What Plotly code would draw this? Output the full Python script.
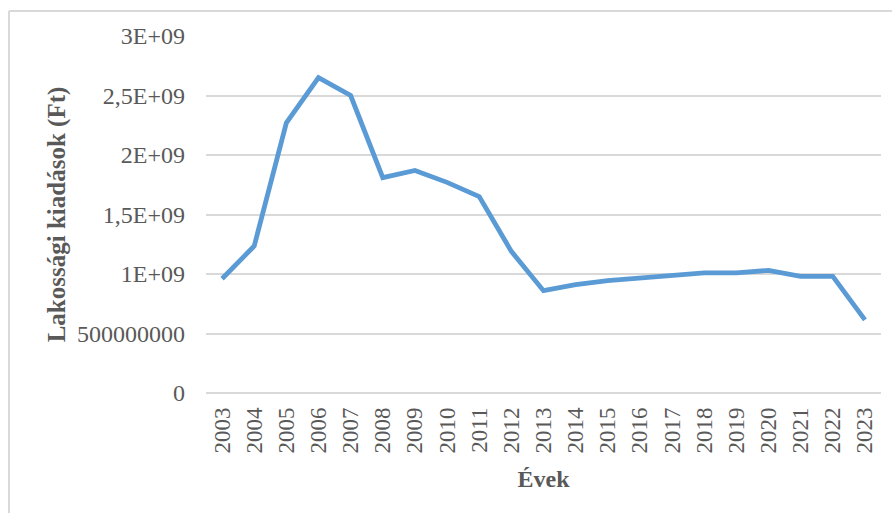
import plotly.graph_objects as go

# Éves lakossági kiadások (Ft)
years = [str(y) for y in range(2003, 2024)]
spending = [
    0.96e9, 1.235e9, 2.27e9, 2.65e9, 2.50e9, 1.81e9, 1.87e9, 1.77e9, 1.65e9,
    1.19e9, 0.86e9, 0.91e9, 0.945e9, 0.965e9, 0.99e9, 1.01e9, 1.01e9, 1.03e9,
    0.98e9, 0.98e9, 0.615e9,
]
y_tickvals = [0, 5e8, 1e9, 1.5e9, 2e9, 2.5e9, 3e9]
y_ticktext = ["0", "500000000", "1E+09", "1,5E+09", "2E+09", "2,5E+09", "3E+09"]

W, H = 892, 513
ML, MR, MT, MB = 206, 11, 36, 120
FONT = "Liberation Serif, Times New Roman, serif"
GREY = "#595959"
GRID = "#D9D9D9"

fig = go.Figure(
    go.Scatter(
        x=years,
        y=spending,
        mode="lines",
        line=dict(color="#5B9BD5", width=4.8),
        hoverinfo="x+y",
    )
)

# frame lines of the chart area (left and top edges)
pw, ph = W - ML - MR, H - MT - MB
def px_x(p):
    return (p - ML) / pw
def px_y(p):
    return 1 - (p - MT) / ph

frame = dict(color=GRID, width=2)
fig.add_shape(type="line", xref="paper", yref="paper",
              x0=px_x(9), x1=px_x(W + 5), y0=px_y(11), y1=px_y(11), line=frame)
fig.add_shape(type="line", xref="paper", yref="paper",
              x0=px_x(9), x1=px_x(9), y0=px_y(11), y1=px_y(H + 5), line=frame)

fig.update_layout(
    width=W,
    height=H,
    margin=dict(l=ML, r=MR, t=MT, b=MB),
    paper_bgcolor="white",
    plot_bgcolor="white",
    showlegend=False,
    font=dict(family=FONT, color=GREY, size=22),
    xaxis=dict(
        type="category",
        range=[-0.5, len(years) - 0.5],
        tickangle=-90,
        tickfont=dict(size=23, color=GREY),
        showgrid=False,
        showline=False,
        ticks="",
        ticklabelstandoff=9,
        title=dict(text="<b>Évek</b>", font=dict(size=24, color=GREY), standoff=17),
    ),
    yaxis=dict(
        range=[0, 3e9],
        tickvals=y_tickvals,
        ticktext=y_ticktext,
        tickfont=dict(size=24, color=GREY),
        showgrid=True,
        gridcolor=GRID,
        gridwidth=1.5,
        zeroline=True,
        zerolinecolor=GRID,
        zerolinewidth=1.5,
        showline=False,
        ticks="",
        ticklabelstandoff=20,
        title=dict(text="<b>Lakossági kiadások (Ft)</b>", font=dict(size=25, color=GREY), standoff=4),
    ),
)

fig.write_html("out.html")
